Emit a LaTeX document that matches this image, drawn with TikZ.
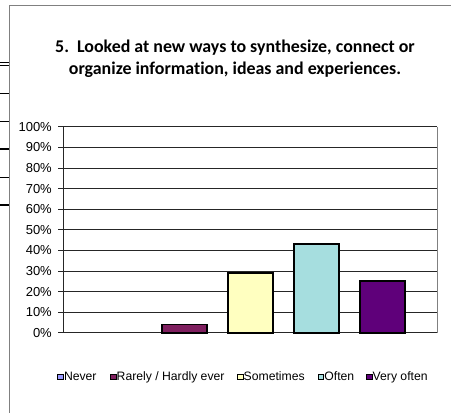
\documentclass[tikz,border=0pt]{standalone}
\usepackage{fontspec}
\setmainfont{Liberation Sans}
\newfontfamily\titlefont[Ligatures=NoCommon]{Carlito}
\usetikzlibrary{positioning}

\definecolor{never}{HTML}{9999FF}
\definecolor{rarely}{HTML}{7F1F5F}
\definecolor{sometimes}{HTML}{FFFFC0}
\definecolor{often}{HTML}{A6DEDF}
\definecolor{veryoften}{HTML}{5F007A}
\definecolor{framegray}{HTML}{808080}

\begin{document}
\begin{tikzpicture}[x=1pt,y=-1pt,
    lbl/.style={font=\fontsize{13}{15}\selectfont, inner sep=0pt},
    keytext/.style={font=\fontsize{12.2}{14}\selectfont, inner sep=0pt},
    titletext/.style={font=\titlefont\bfseries\fontsize{17.9}{20}\selectfont, inner sep=0pt, anchor=base},
    gridline/.style={black!85, line width=0.8pt},
    bar/.style={draw=black, line width=1.8pt},
    key/.style={draw=black, line width=1pt, minimum size=5.5pt, inner sep=0pt}]
    \useasboundingbox (0,0) rectangle (451,413);

    %Frame
    \draw[framegray, line width=1pt] (9,413) -- (9,5) -- (451,5);
    \foreach \y in {62.7,65.3,93.3,121.7,149,177.7,205}
        \draw[line width=1.3pt] (0,\y) -- (8.5,\y);

    %Title
    \node[titletext] (title1) at (235,52.5) {5.\ \ Looked at new ways to synthesize, connect or};
    \node[titletext] (title2) at (235,74) {organize information, ideas and experiences.};

    %Grid and axis
    \foreach \p in {0,10,...,100} {
        \draw[gridline] (58,{332.7-2.06*\p}) -- (437,{332.7-2.06*\p});
        \node[lbl, anchor=base east] (p\p) at (52,{332.7-2.06*\p+4.5}) {\p\%};
    }
    \draw[gridline] (63,126.7) -- (63,332.7);
    \draw[framegray, line width=0.8pt] (437,126.7) -- (437,332.7);

    %Bars
    \foreach \i/\v/\c in {2/4/rarely,3/29/sometimes,4/43/often,5/25/veryoften}
        \draw[bar, fill=\c] ({118.5+66*(\i-1)-22.2},332.7) rectangle ++(44.4,{-2.06*\v});

    %Legend
    \foreach \x/\c/\t in {57.3/never/Never,110/rarely/{Rarely / Hardly ever},237/sometimes/Sometimes,317.7/often/Often,366/veryoften/Very often} {
        \node[key, fill=\c, anchor=north west] (k\c) at (\x,373.5) {};
        \node[keytext, anchor=base west] (t\c) at (\x+6.5,380.7) {\t};
    }
\end{tikzpicture}
\end{document}
